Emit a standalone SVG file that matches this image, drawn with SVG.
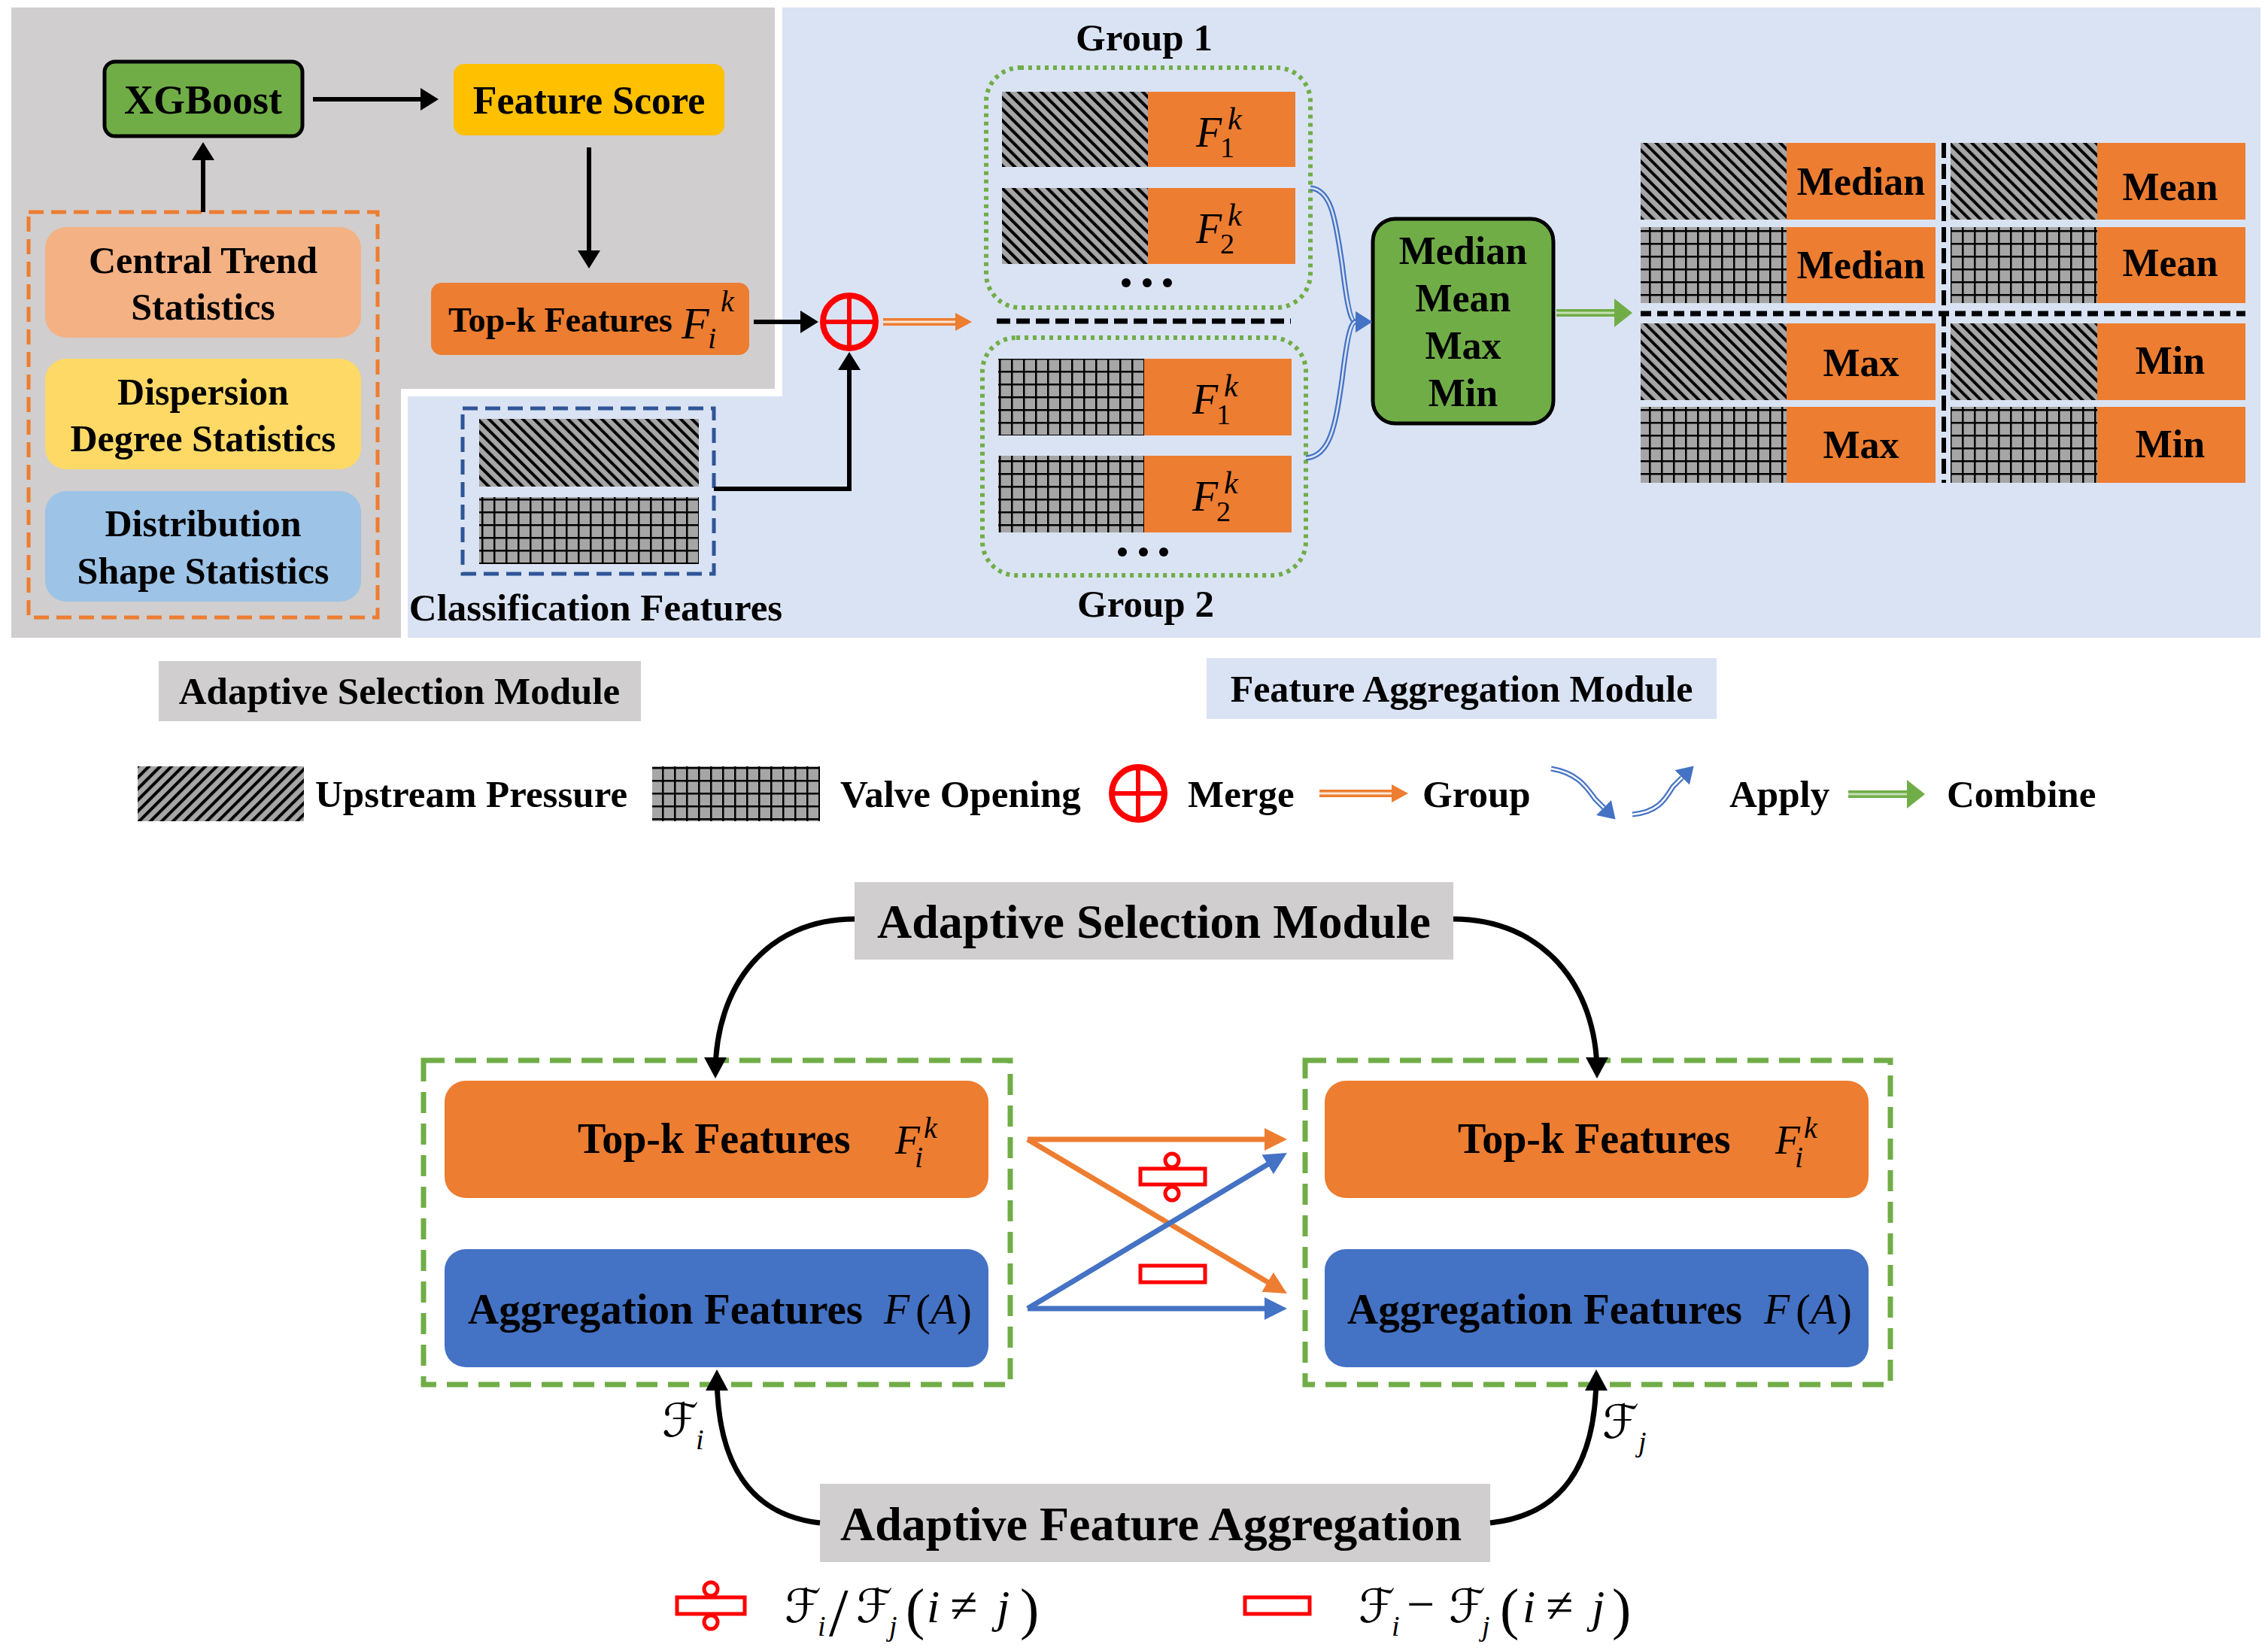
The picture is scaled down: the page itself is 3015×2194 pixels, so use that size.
<svg xmlns="http://www.w3.org/2000/svg" width="3015" height="2194" viewBox="0 0 3015 2194">
<defs>
<style>
.t{font-family:"Liberation Serif","Times New Roman",serif;font-weight:bold;fill:#000}
.c{text-anchor:middle}
.mi{font-family:"Liberation Serif","Times New Roman",serif;font-style:italic;fill:#000}
.mu{font-family:"Liberation Serif","Times New Roman",serif;font-style:normal;fill:#000}
.sc{font-family:"DejaVu Serif","DejaVu Sans",serif;font-style:normal}
.ln{fill:none;stroke:#000;stroke-width:6}
.lb{fill:none;stroke:#000;stroke-width:7}
.or{fill:#ED7D31}
.hb{fill:url(#hb)}
.gr{fill:url(#gr)}
.red{fill:#fff;stroke:#FF0000;stroke-width:5}
</style>
<pattern id="hb" width="10.6" height="10.6" patternUnits="userSpaceOnUse" patternTransform="rotate(-45)"><rect width="10.6" height="10.6" fill="#A6A6A6"/><rect width="4" height="10.6" fill="#000"/></pattern>
<pattern id="hf" width="10.6" height="10.6" patternUnits="userSpaceOnUse" patternTransform="rotate(45)"><rect width="10.6" height="10.6" fill="#A6A6A6"/><rect width="4" height="10.6" fill="#000"/></pattern>
<pattern id="gr" width="16" height="17" patternUnits="userSpaceOnUse"><rect width="16" height="17" fill="#A6A6A6"/><rect width="2.5" height="17" fill="#000"/><rect width="16" height="2.5" fill="#000"/></pattern>
<marker id="ab" markerUnits="userSpaceOnUse" markerWidth="24" markerHeight="30" refX="18" refY="15" orient="auto"><path d="M0,0 L24,15 L0,30 z" fill="#000"/></marker>
<marker id="ab2" markerUnits="userSpaceOnUse" markerWidth="28" markerHeight="30" refX="21" refY="15" orient="auto"><path d="M0,0 L28,15 L0,30 z" fill="#000"/></marker>
<marker id="ao" markerUnits="userSpaceOnUse" markerWidth="30" markerHeight="30" refX="22" refY="15" orient="auto"><path d="M0,0 L30,15 L0,30 z" fill="#ED7D31"/></marker>
<marker id="al" markerUnits="userSpaceOnUse" markerWidth="30" markerHeight="30" refX="22" refY="15" orient="auto"><path d="M0,0 L30,15 L0,30 z" fill="#4472C4"/></marker>
<marker id="hO" markerUnits="userSpaceOnUse" markerWidth="22" markerHeight="24" refX="0" refY="12" orient="auto"><path d="M0,0 L22,12 L0,24 z" fill="#ED7D31"/></marker>
<marker id="hG" markerUnits="userSpaceOnUse" markerWidth="24" markerHeight="38" refX="0" refY="19" orient="auto"><path d="M0,0 L24,19 L0,38 z" fill="#70AD47"/></marker>
<marker id="hL" markerUnits="userSpaceOnUse" markerWidth="22" markerHeight="28" refX="0" refY="14" orient="auto"><path d="M0,0 L22,14 L0,28 z" fill="#4472C4"/></marker>
</defs>

<g id="backgrounds">
<polygon points="15,10 1030,10 1030,517 533,517 533,848 15,848" fill="#D0CECE"/>
<polygon points="1040,10 3005,10 3005,848 542,848 542,527 1040,527" fill="#DAE3F3"/>
</g>

<g id="xgboost">
<rect x="139" y="82" width="263" height="99" rx="14" fill="#70AD47" stroke="#000" stroke-width="5"/>
<text class="t c" x="270" y="151" font-size="54">XGBoost</text>
</g>
<g id="feature-score">
<rect x="603" y="85" width="360" height="95" rx="14" fill="#FFC000"/>
<text class="t c" x="783" y="151" font-size="52">Feature Score</text>
</g>
<g id="topk-features">
<rect x="573" y="376" width="423" height="96" rx="14" fill="#ED7D31"/>
<text class="t" x="596" y="441" font-size="46">Top-k Features</text>
<text class="mi"><tspan x="906" y="450" font-size="60">F</tspan><tspan x="958" y="414" font-size="40">k</tspan><tspan x="941" y="463" font-size="40">i</tspan></text>
</g>
<g id="statistics">
<rect x="38" y="282" width="464" height="539" fill="none" stroke="#ED7D31" stroke-width="5" stroke-dasharray="20 10"/>
<g id="central-trend">
<rect x="60" y="302" width="420" height="147" rx="28" fill="#F4B183"/>
<text class="t c" x="270" y="363" font-size="50">Central Trend</text>
<text class="t c" x="270" y="425" font-size="50">Statistics</text>
</g>
<g id="dispersion">
<rect x="60" y="477" width="420" height="147" rx="28" fill="#FFD966"/>
<text class="t c" x="270" y="538" font-size="50">Dispersion</text>
<text class="t c" x="270" y="600" font-size="50">Degree Statistics</text>
</g>
<g id="distribution">
<rect x="60" y="653" width="420" height="147" rx="28" fill="#9DC3E6"/>
<text class="t c" x="270" y="713" font-size="50">Distribution</text>
<text class="t c" x="270" y="776" font-size="50">Shape Statistics</text>
</g>
</g>
<g id="classification-features">
<rect x="615" y="543" width="334" height="220" fill="none" stroke="#2F5597" stroke-width="5" stroke-dasharray="20 10"/>
<rect x="637" y="557" width="292" height="90" class="hb"/>
<rect x="637" y="661" width="292" height="89" class="gr"/>
<text class="t c" x="792" y="825" font-size="51">Classification Features</text>
</g>
<g id="merge">
<circle cx="1129" cy="428" r="35" fill="none" stroke="#FF0000" stroke-width="8"/>
<path d="M1129,393V463M1094,428H1164" stroke="#FF0000" stroke-width="6"/>
</g>

<g id="group1">
<text class="t c" x="1521" y="67" font-size="51">Group 1</text>
<rect x="1311" y="90" width="431" height="319" rx="45" fill="none" stroke="#70AD47" stroke-width="6" stroke-dasharray="5 6"/>
<rect x="1332" y="122" width="194" height="100" class="hb"/><rect x="1526" y="122" width="196" height="100" class="or"/>
<text class="mi"><tspan x="1590" y="195" font-size="56">F</tspan><tspan x="1632" y="172" font-size="42">k</tspan><tspan class="mu" x="1622" y="209" font-size="38">1</tspan></text>
<rect x="1332" y="250" width="194" height="101" class="hb"/><rect x="1526" y="250" width="196" height="101" class="or"/>
<text class="mi"><tspan x="1590" y="323" font-size="56">F</tspan><tspan x="1632" y="300" font-size="42">k</tspan><tspan class="mu" x="1622" y="337" font-size="38">2</tspan></text>
<circle cx="1497" cy="376" r="6"/><circle cx="1525" cy="376" r="6"/><circle cx="1552" cy="376" r="6"/>
</g>
<line x1="1325" y1="427" x2="1716" y2="427" stroke="#000" stroke-width="7" stroke-dasharray="18 8"/>
<g id="group2">
<rect x="1306" y="449" width="430" height="316" rx="45" fill="none" stroke="#70AD47" stroke-width="6" stroke-dasharray="5 6"/>
<rect x="1327" y="477" width="194" height="102" class="gr"/><rect x="1521" y="477" width="196" height="102" class="or"/>
<text class="mi"><tspan x="1585" y="550" font-size="56">F</tspan><tspan x="1627" y="527" font-size="42">k</tspan><tspan class="mu" x="1617" y="564" font-size="38">1</tspan></text>
<rect x="1327" y="606" width="194" height="102" class="gr"/><rect x="1521" y="606" width="196" height="102" class="or"/>
<text class="mi"><tspan x="1585" y="679" font-size="56">F</tspan><tspan x="1627" y="656" font-size="42">k</tspan><tspan class="mu" x="1617" y="693" font-size="38">2</tspan></text>
<circle cx="1492" cy="734" r="6"/><circle cx="1520" cy="734" r="6"/><circle cx="1547" cy="734" r="6"/>
<text class="t c" x="1523" y="820" font-size="51">Group 2</text>
</g>
<g id="aggregation-functions">
<rect x="1825" y="291" width="240" height="272" rx="30" fill="#70AD47" stroke="#000" stroke-width="5"/>
<text class="t c" x="1945" y="351" font-size="52">Median</text>
<text class="t c" x="1945" y="414" font-size="52">Mean</text>
<text class="t c" x="1945" y="477" font-size="52">Max</text>
<text class="t c" x="1945" y="540" font-size="52">Min</text>
</g>
<g id="result-grid">
<rect x="2181" y="190" width="194" height="102" class="hb"/><rect x="2375" y="190" width="198" height="102" class="or"/>
<rect x="2181" y="302" width="194" height="101" class="gr"/><rect x="2375" y="302" width="198" height="101" class="or"/>
<rect x="2181" y="430" width="194" height="102" class="hb"/><rect x="2375" y="430" width="198" height="102" class="or"/>
<rect x="2181" y="541" width="194" height="101" class="gr"/><rect x="2375" y="541" width="198" height="101" class="or"/>
<rect x="2593" y="190" width="195" height="102" class="hb"/><rect x="2788" y="190" width="197" height="102" class="or"/>
<rect x="2593" y="302" width="195" height="101" class="gr"/><rect x="2788" y="302" width="197" height="101" class="or"/>
<rect x="2593" y="430" width="195" height="102" class="hb"/><rect x="2788" y="430" width="197" height="102" class="or"/>
<rect x="2593" y="541" width="195" height="101" class="gr"/><rect x="2788" y="541" width="197" height="101" class="or"/>
<text class="t c" x="2474" y="259" font-size="52">Median</text>
<text class="t c" x="2474" y="370" font-size="52">Median</text>
<text class="t c" x="2474" y="500" font-size="52">Max</text>
<text class="t c" x="2474" y="609" font-size="52">Max</text>
<text class="t c" x="2885" y="266" font-size="52">Mean</text>
<text class="t c" x="2885" y="367" font-size="52">Mean</text>
<text class="t c" x="2885" y="497" font-size="52">Min</text>
<text class="t c" x="2885" y="608" font-size="52">Min</text>
<line x1="2181" y1="417" x2="2985" y2="417" stroke="#000" stroke-width="7" stroke-dasharray="14 8"/>
<line x1="2584" y1="190" x2="2584" y2="642" stroke="#000" stroke-width="6" stroke-dasharray="20 8"/>
</g>

<g id="label-asm">
<rect x="211" y="879" width="641" height="80" fill="#D0CECE"/>
<text class="t c" x="531" y="936" font-size="51">Adaptive Selection Module</text>
</g>
<g id="label-fam">
<rect x="1604" y="875" width="678" height="81" fill="#DAE3F3"/>
<text class="t c" x="1943" y="933" font-size="50">Feature Aggregation Module</text>
</g>

<g id="legend">
<rect x="183" y="1019" width="221" height="73" fill="url(#hf)"/>
<text class="t" x="419" y="1073" font-size="51">Upstream Pressure</text>
<rect x="867" y="1019" width="223" height="73" class="gr"/>
<text class="t" x="1117" y="1073" font-size="51">Valve Opening</text>
<circle cx="1513" cy="1055" r="35" fill="none" stroke="#FF0000" stroke-width="8"/>
<path d="M1513,1020V1090M1478,1055H1548" stroke="#FF0000" stroke-width="6"/>
<text class="t" x="1579" y="1073" font-size="51">Merge</text>
<path d="M1754,1055H1850" fill="none" stroke="#ED7D31" stroke-width="10" marker-end="url(#hO)"/>
<path d="M1754,1055H1850" fill="none" stroke="#FBE5D6" stroke-width="3"/>
<text class="t" x="1891" y="1073" font-size="51">Group</text>
<path d="M2062,1022 C2098,1028 2110,1048 2120,1062 L2132,1074" fill="none" stroke="#4472C4" stroke-width="7" marker-end="url(#hL)"/>
<path d="M2062,1022 C2098,1028 2110,1048 2120,1062 L2132,1074" fill="none" stroke="#fff" stroke-width="2.5"/>
<path d="M2170,1083 C2205,1080 2214,1062 2224,1046 L2236,1034" fill="none" stroke="#4472C4" stroke-width="7" marker-end="url(#hL)"/>
<path d="M2170,1083 C2205,1080 2214,1062 2224,1046 L2236,1034" fill="none" stroke="#fff" stroke-width="2.5"/>
<text class="t" x="2299" y="1073" font-size="51">Apply</text>
<path d="M2457,1056H2535" fill="none" stroke="#70AD47" stroke-width="10" marker-end="url(#hG)"/>
<path d="M2457,1056H2535" fill="none" stroke="#C5E0B4" stroke-width="3"/>
<text class="t" x="2588" y="1073" font-size="51">Combine</text>
</g>

<g id="asm-bottom">
<rect x="1136" y="1173" width="796" height="103" fill="#D0CECE"/>
<text class="t c" x="1534" y="1247" font-size="64">Adaptive Selection Module</text>
</g>
<g id="left-block">
<rect x="563" y="1410" width="780" height="431" fill="none" stroke="#70AD47" stroke-width="7" stroke-dasharray="28 14"/>
<g id="topk-left">
<rect x="591" y="1437" width="723" height="156" rx="28" fill="#ED7D31"/>
<text class="t" x="768" y="1533" font-size="56">Top-k Features</text>
<text class="mi"><tspan x="1190" y="1534" font-size="54">F</tspan><tspan x="1228" y="1513" font-size="40">k</tspan><tspan x="1216" y="1552" font-size="40">i</tspan></text>
</g>
<g id="agg-left">
<rect x="591" y="1661" width="723" height="157" rx="28" fill="#4472C4"/>
<text class="t" x="622" y="1760" font-size="57">Aggregation Features</text>
<text class="mi"><tspan x="1175" y="1760" font-size="56">F</tspan><tspan class="mu" x="1217" y="1762" font-size="60">(</tspan><tspan x="1237" y="1760" font-size="56">A</tspan><tspan class="mu" x="1272" y="1762" font-size="60">)</tspan></text>
</g>
</g>
<g id="right-block">
<rect x="1735" y="1410" width="778" height="431" fill="none" stroke="#70AD47" stroke-width="7" stroke-dasharray="28 14"/>
<g id="topk-right">
<rect x="1761" y="1437" width="723" height="156" rx="28" fill="#ED7D31"/>
<text class="t" x="1938" y="1533" font-size="56">Top-k Features</text>
<text class="mi"><tspan x="2360" y="1534" font-size="54">F</tspan><tspan x="2398" y="1513" font-size="40">k</tspan><tspan x="2386" y="1552" font-size="40">i</tspan></text>
</g>
<g id="agg-right">
<rect x="1761" y="1661" width="723" height="157" rx="28" fill="#4472C4"/>
<text class="t" x="1791" y="1760" font-size="57">Aggregation Features</text>
<text class="mi"><tspan x="2345" y="1760" font-size="56">F</tspan><tspan class="mu" x="2387" y="1762" font-size="60">(</tspan><tspan x="2407" y="1760" font-size="56">A</tspan><tspan class="mu" x="2442" y="1762" font-size="60">)</tspan></text>
</g>
</g>
<g id="afa-bottom">
<rect x="1090" y="1973" width="891" height="104" fill="#D0CECE"/>
<text class="t c" x="1530" y="2048" font-size="64">Adaptive Feature Aggregation</text>
</g>

<g id="connectors">
<line x1="416" y1="132" x2="577" y2="132" class="ln" marker-end="url(#ab)"/>
<line x1="783" y1="196" x2="783" y2="351" class="ln" marker-end="url(#ab)"/>
<line x1="270" y1="282" x2="270" y2="195" class="ln" marker-end="url(#ab)"/>
<line x1="1002" y1="428" x2="1082" y2="428" class="ln" marker-end="url(#ab)"/>
<polyline points="949,650 1129,650 1129,474" class="ln" marker-end="url(#ab)"/>
<path d="M1174,428H1270" fill="none" stroke="#ED7D31" stroke-width="10" marker-end="url(#hO)"/>
<path d="M1174,428H1270" fill="none" stroke="#FBE5D6" stroke-width="3"/>
<path d="M1742,250 C1772,252 1776,300 1784,350 C1790,400 1795,428 1802,428" fill="none" stroke="#4472C4" stroke-width="7" marker-end="url(#hL)"/>
<path d="M1742,250 C1772,252 1776,300 1784,350 C1790,400 1795,428 1802,428" fill="none" stroke="#DAE3F3" stroke-width="2.5"/>
<path d="M1736,609 C1770,607 1776,560 1784,505 C1790,455 1795,428 1802,428" fill="none" stroke="#4472C4" stroke-width="7" marker-end="url(#hL)"/>
<path d="M1736,609 C1770,607 1776,560 1784,505 C1790,455 1795,428 1802,428" fill="none" stroke="#DAE3F3" stroke-width="2.5"/>
<path d="M2069,416H2146" fill="none" stroke="#70AD47" stroke-width="10" marker-end="url(#hG)"/>
<path d="M2069,416H2146" fill="none" stroke="#C5E0B4" stroke-width="3"/>
<path d="M1136,1222 C1020,1222 951,1310 951,1427" class="lb" marker-end="url(#ab2)"/>
<path d="M1932,1222 C2050,1222 2123,1310 2123,1427" class="lb" marker-end="url(#ab2)"/>
<path d="M1090,2025 C1000,2015 953,1950 953,1828" class="lb" marker-end="url(#ab2)"/>
<path d="M1981,2025 C2075,2015 2122,1950 2122,1828" class="lb" marker-end="url(#ab2)"/>
<path d="M1366,1515H1703" fill="none" stroke="#ED7D31" stroke-width="7" marker-end="url(#ao)"/>
<path d="M1366,1515L1704,1716" fill="none" stroke="#ED7D31" stroke-width="7" marker-end="url(#ao)"/>
<path d="M1366,1740H1703" fill="none" stroke="#4472C4" stroke-width="7" marker-end="url(#al)"/>
<path d="M1366,1740L1704,1537" fill="none" stroke="#4472C4" stroke-width="7" marker-end="url(#al)"/>
<text class="mi"><tspan class="sc" x="880" y="1910" font-size="62">ℱ</tspan><tspan x="925" y="1927" font-size="38">i</tspan></text>
<text class="mi"><tspan class="sc" x="2130" y="1912" font-size="62">ℱ</tspan><tspan x="2178" y="1930" font-size="38">j</tspan></text>
</g>

<g id="operators">
<rect x="1516" y="1554" width="86" height="21" class="red"/>
<circle cx="1558" cy="1543" r="9" class="red"/>
<circle cx="1558" cy="1587" r="9" class="red"/>
<rect x="1516" y="1683" width="86" height="22" class="red"/>
</g>

<g id="formula-legend">
<rect x="900" y="2124" width="90" height="22" class="red"/>
<circle cx="945" cy="2113" r="9" class="red"/>
<circle cx="945" cy="2157" r="9" class="red"/>
<text class="mi"><tspan class="sc" x="1043" y="2157" font-size="62">ℱ</tspan><tspan x="1087" y="2175" font-size="38">i</tspan><tspan class="mu" x="1102" y="2175" font-size="92">/</tspan><tspan class="sc" x="1138" y="2157" font-size="62">ℱ</tspan><tspan x="1182" y="2175" font-size="38">j</tspan><tspan class="mu" x="1204" y="2165" font-size="76">(</tspan><tspan x="1232" y="2157" font-size="62">i</tspan><tspan class="mu" x="1263" y="2157" font-size="66">≠</tspan><tspan x="1325" y="2157" font-size="62">j</tspan><tspan class="mu" x="1356" y="2165" font-size="76">)</tspan></text>
<rect x="1655" y="2124" width="86" height="22" class="red"/>
<text class="mi"><tspan class="sc" x="1806" y="2157" font-size="62">ℱ</tspan><tspan x="1850" y="2175" font-size="38">i</tspan><tspan class="mu" x="1870" y="2155" font-size="66">−</tspan><tspan class="sc" x="1926" y="2157" font-size="62">ℱ</tspan><tspan x="1970" y="2175" font-size="38">j</tspan><tspan class="mu" x="1994" y="2165" font-size="76">(</tspan><tspan x="2024" y="2157" font-size="62">i</tspan><tspan class="mu" x="2055" y="2157" font-size="66">≠</tspan><tspan x="2116" y="2157" font-size="62">j</tspan><tspan class="mu" x="2143" y="2165" font-size="76">)</tspan></text>
</g>
</svg>
